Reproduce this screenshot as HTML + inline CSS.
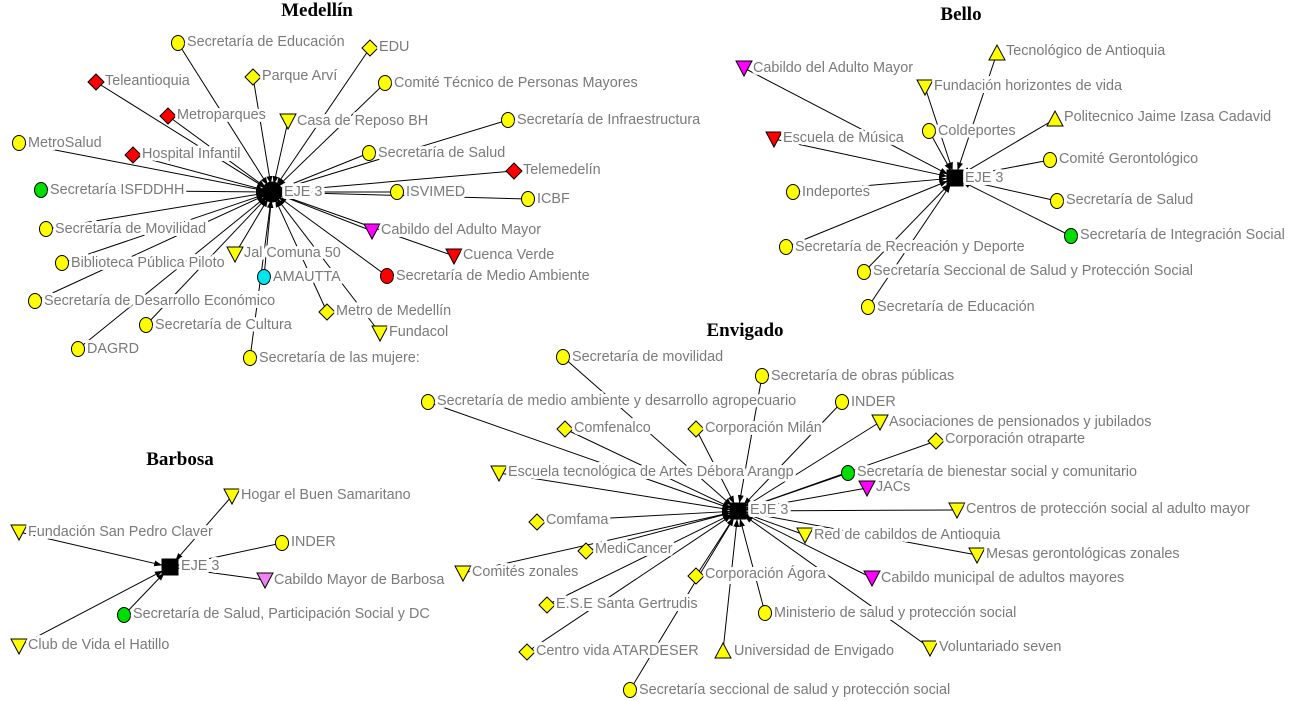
<!DOCTYPE html>
<html><head><meta charset="utf-8"><style>
html,body{margin:0;padding:0;background:#fff}
svg{display:block}
.l text{font-family:"Liberation Sans",sans-serif;font-size:14.4px;fill:#7a7a7a;stroke:#fff;stroke-width:6;paint-order:stroke;stroke-linejoin:round}
.t{font-family:"Liberation Serif",serif;font-size:19px;font-weight:bold;fill:#000}
</style></head><body>
<svg id="s" width="1298" height="701" viewBox="0 0 1298 701" xmlns="http://www.w3.org/2000/svg">
<defs><marker id="a" markerWidth="8" markerHeight="8" refX="8" refY="4" orient="auto" markerUnits="userSpaceOnUse"><path d="M0,1 L8,4 L0,7z" fill="#000"/></marker></defs>
<g id="lines" stroke="#000" stroke-width="1"></g>
<g id="nodes" stroke="#000" stroke-width="1"></g>
<text class="t" x="317" y="16" text-anchor="middle">Medellín</text>
<text class="t" x="961" y="20" text-anchor="middle">Bello</text>
<text class="t" x="745" y="336" text-anchor="middle">Envigado</text>
<text class="t" x="180" y="465" text-anchor="middle">Barbosa</text>
<g class="l">
<text x="187" y="46">Secretaría de Educación</text>
<text x="379" y="51">EDU</text>
<text x="262" y="80">Parque Arví</text>
<text x="394" y="87">Comité Técnico de Personas Mayores</text>
<text x="105" y="85">Teleantioquia</text>
<text x="177" y="119">Metroparques</text>
<text x="297" y="125">Casa de Reposo BH</text>
<text x="517" y="124">Secretaría de Infraestructura</text>
<text x="28" y="147">MetroSalud</text>
<text x="142" y="158">Hospital Infantil</text>
<text x="378" y="157">Secretaría de Salud</text>
<text x="523" y="174">Telemedelín</text>
<text x="50" y="194">Secretaría ISFDDHH</text>
<text x="406" y="196">ISVIMED</text>
<text x="537" y="203">ICBF</text>
<text x="55" y="233">Secretaría de Movilidad</text>
<text x="381" y="234">Cabildo del  Adulto Mayor</text>
<text x="244" y="257">Jal Comuna 50</text>
<text x="463" y="259">Cuenca Verde</text>
<text x="71" y="267">Biblioteca Pública Piloto</text>
<text x="273" y="281">AMAUTTA</text>
<text x="396" y="280">Secretaría de Medio Ambiente</text>
<text x="44" y="305">Secretaría de Desarrollo Económico</text>
<text x="336" y="315">Metro de Medellín</text>
<text x="155" y="329">Secretaría de Cultura</text>
<text x="389" y="336">Fundacol</text>
<text x="87" y="353">DAGRD</text>
<text x="259" y="362">Secretaría de las mujere:</text>
<text x="284" y="196">EJE 3</text>

<text x="1006" y="55">Tecnológico de Antioquia</text>
<text x="753" y="72">Cabildo del Adulto Mayor</text>
<text x="934" y="90">Fundación horizontes de vida</text>
<text x="1064" y="121">Politecnico Jaime Izasa Cadavid</text>
<text x="938" y="135">Coldeportes</text>
<text x="783" y="142">Escuela de Música</text>
<text x="1059" y="163">Comité Gerontológico</text>
<text x="802" y="196">Indeportes</text>
<text x="1066" y="204">Secretaría de Salud</text>
<text x="1080" y="239">Secretaría de Integración Social</text>
<text x="795" y="251">Secretaría de Recreación y Deporte</text>
<text x="873" y="275">Secretaría Seccional de Salud y Protección Social</text>
<text x="877" y="311">Secretaría de Educación</text>
<text x="965" y="182">EJE 3</text>

<text x="572" y="361">Secretaría de movilidad</text>
<text x="771" y="380">Secretaría de obras públicas</text>
<text x="437" y="405">Secretaría de medio ambiente y desarrollo agropecuario</text>
<text x="851" y="406">INDER</text>
<text x="574" y="432">Comfenalco</text>
<text x="705" y="432">Corporación Milán</text>
<text x="889" y="426">Asociaciones de pensionados y jubilados</text>
<text x="945" y="443">Corporación otraparte</text>
<text x="508" y="476">Escuela tecnológica de Artes Débora Arangp</text>
<text x="857" y="476">Secretaría de bienestar social y comunitario</text>
<text x="876" y="491">JACs</text>
<text x="966" y="513">Centros de protección social al adulto mayor</text>
<text x="546" y="524">Comfama</text>
<text x="814" y="539">Red de cabildos de Antioquia</text>
<text x="595" y="553">MediCancer</text>
<text x="986" y="558">Mesas gerontológicas zonales</text>
<text x="472" y="576">Comités zonales</text>
<text x="705" y="578">Corporación Ágora</text>
<text x="881" y="582">Cabildo municipal de adultos mayores</text>
<text x="556" y="608">E.S.E Santa Gertrudis</text>
<text x="774" y="617">Ministerio de salud y protección social</text>
<text x="939" y="651">Voluntariado seven</text>
<text x="536" y="655">Centro vida ATARDESER</text>
<text x="734" y="655">Universidad de Envigado</text>
<text x="639" y="694">Secretaría seccional de salud y protección social</text>
<text x="750" y="514">EJE 3</text>

<text x="241" y="499">Hogar el Buen Samaritano</text>
<text x="28" y="536">Fundación San Pedro Claver</text>
<text x="291" y="546">INDER</text>
<text x="274" y="584">Cabildo Mayor de Barbosa</text>
<text x="133" y="618">Secretaría de Salud, Participación Social y DC</text>
<text x="28" y="649">Club de Vida el Hatillo</text>
<text x="181" y="570">EJE 3</text>
</g>
</svg>
<script>
var Y="#ffff00",R="#ff0000",G="#00dd00",M="#ff00ff",C="#00e5ee",P="#ee82ee";
var H=[[272,192,'c'],[955,178,'s'],[738,511,'s'],[170,567,'s']];
var N=[
['c',Y,178,43,0],['d',Y,370,48,0],['d',Y,253,77,0],['c',Y,385,83,0],['d',R,96,82,0],['d',R,168,116,0],['v',Y,288,121,0],['c',Y,508,120,0],['c',Y,19,143,0],['d',R,133,155,0],['c',Y,369,153,0],['d',R,514,171,0],['c',G,41,190,0],['c',Y,397,192,0],['c',Y,528,199,0],['c',Y,46,229,0],['v',M,372,231,0],['v',Y,235,254,0],['v',R,454,256,0],['c',Y,62,263,0],['c',C,264,277,0],['c',R,387,276,0],['c',Y,35,301,0],['d',Y,327,312,0],['c',Y,146,325,0],['v',Y,380,333,0],['c',Y,78,349,0],['c',Y,250,358,0],
['u',Y,997,53,1],['v',M,744,68,1],['v',Y,925,87,1],['u',Y,1055,119,1],['c',Y,929,131,1],['v',R,774,139,1],['c',Y,1050,160,1],['c',Y,793,192,1],['c',Y,1057,201,1],['c',G,1071,236,1],['c',Y,786,247,1],['c',Y,864,272,1],['c',Y,868,307,1],
['c',Y,563,357,2],['c',Y,762,376,2],['c',Y,428,402,2],['c',Y,842,402,2],['d',Y,565,429,2],['d',Y,696,429,2],['v',Y,880,422,2],['d',Y,936,441,2],['v',Y,499,473,2],['c',G,848,473,2],['v',M,867,488,2],['v',Y,957,510,2],['d',Y,537,522,2],['v',Y,805,535,2],['d',Y,586,551,2],['v',Y,977,555,2],['v',Y,463,573,2],['d',Y,696,576,2],['v',M,872,578,2],['d',Y,547,605,2],['c',Y,765,613,2],['v',Y,930,648,2],['d',Y,527,652,2],['u',Y,723,651,2],['c',Y,630,690,2],
['v',Y,232,496,3],['v',Y,19,532,3],['c',Y,282,543,3],['v',P,265,580,3],['c',G,124,615,3],['v',Y,19,646,3]];
var ns="http://www.w3.org/2000/svg",L=document.getElementById('lines'),K=document.getElementById('nodes');
function el(t,a,p){var e=document.createElementNS(ns,t);for(var k in a)e.setAttribute(k,a[k]);p.appendChild(e);return e;}
N.forEach(function(n){var h=H[n[4]],dx=h[0]-n[2],dy=h[1]-n[3],d=Math.hypot(dx,dy),r=8;
el('line',{x1:n[2],y1:n[3],x2:h[0]-dx/d*r,y2:h[1]-dy/d*r,'marker-end':'url(#a)'},L);
var x=n[2],y=n[3];
if(n[0]=='c')el('ellipse',{cx:x,cy:y,rx:6.5,ry:7.5,fill:n[1]},K);
else if(n[0]=='d')el('polygon',{points:[x,y-8,x+8,y,x,y+8,x-8,y].join(','),fill:n[1]},K);
else if(n[0]=='v')el('polygon',{points:[x-8,y-7,x+8,y-7,x,y+8].join(','),fill:n[1]},K);
else el('polygon',{points:[x-8,y+7,x+8,y+7,x,y-8].join(','),fill:n[1]},K);});
H.forEach(function(h){if(h[2]=='c')el('circle',{cx:h[0],cy:h[1],r:10,fill:'#000'},K);else el('rect',{x:h[0]-8,y:h[1]-8,width:16,height:16,fill:'#000'},K);});
</script>
</body></html>
